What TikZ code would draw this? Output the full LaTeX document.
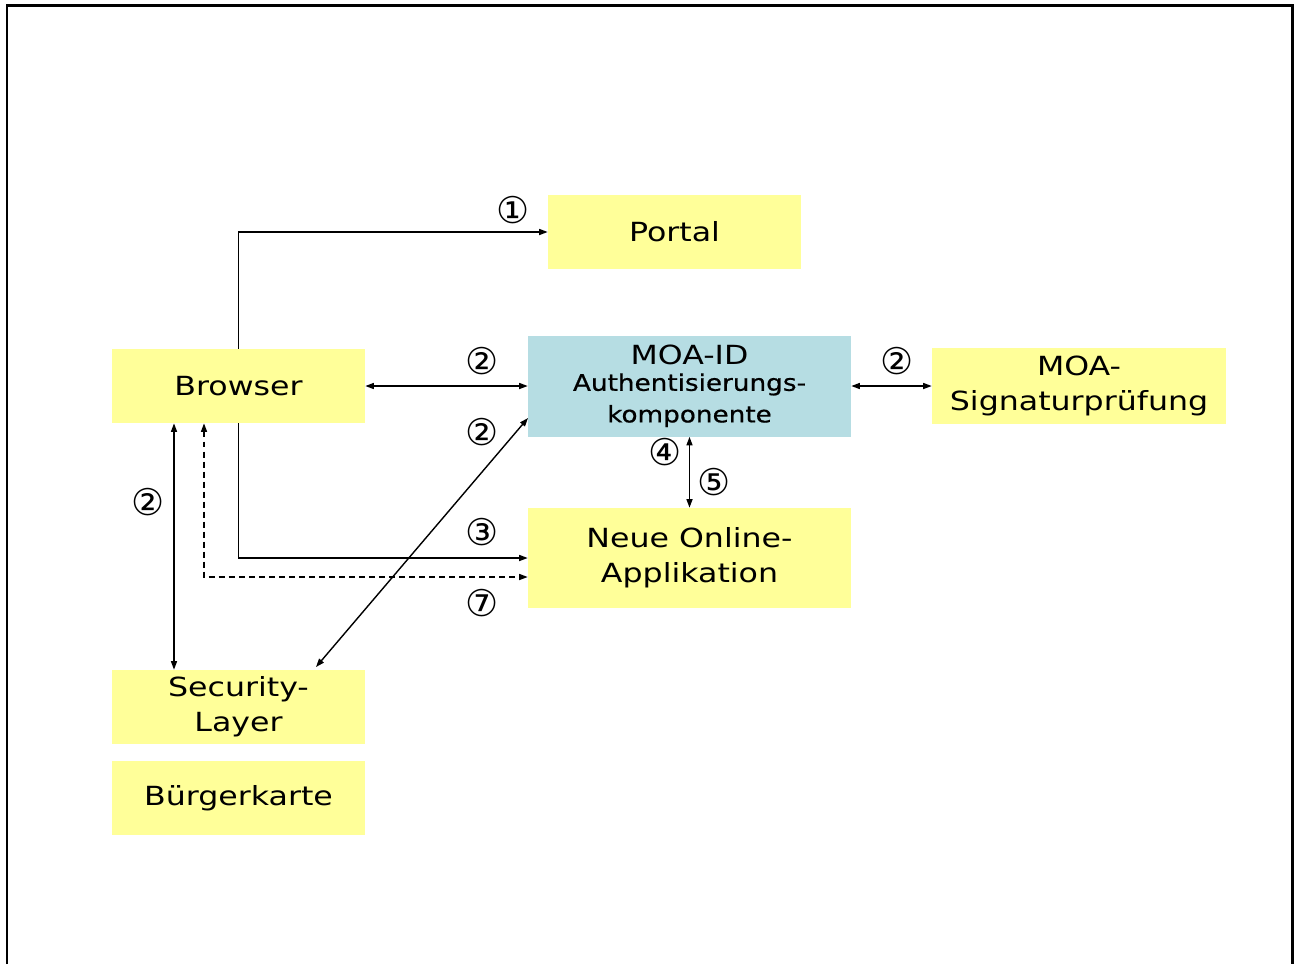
\documentclass[tikz,border=0pt]{standalone}
\usepackage{fontspec}
\usetikzlibrary{arrows.meta}
\setmainfont{DejaVu Sans}
\newfontfamily\boxfont[FakeStretch=1.2]{DejaVu Sans}
\newfontfamily\smallboxfont[FakeStretch=1.15, FakeBold=0.6]{DejaVu Sans}
\definecolor{boxyellow}{RGB}{255,255,153}
\definecolor{boxblue}{RGB}{182,221,227}

\begin{document}
\begin{tikzpicture}[x=0.02cm, y=-0.02cm, >={Triangle[length=0.17cm,width=0.12cm]},
    comp/.style={fill=boxyellow, inner sep=0pt, align=center,
                 font=\boxfont\fontsize{15}{20}\selectfont},
    step label/.style={font=\fontsize{21}{21}\selectfont, inner sep=0pt},
    link/.style={line width=0.8pt},
    back link/.style={link, dash pattern=on 3.4pt off 2.3pt}]

  \useasboundingbox (0,0) rectangle (1294,964);
  \draw[line width=0.06cm] (7,964) -- (7,5) -- (1292,5) -- (1292,964);

  % components
  \node[comp, minimum width=5.06cm, minimum height=1.48cm] (portal) at (674.5,232) {Portal};
  \node[comp, minimum width=5.06cm, minimum height=1.48cm] (browser) at (238.5,386) {Browser};
  \node[comp, fill=boxblue, minimum width=6.46cm, minimum height=2.02cm] (moa) at (689.5,386)
    {MOA-ID\\[-5pt]{\smallboxfont\fontsize{13}{17}\selectfont Authentisierungs-}\\[-2pt]{\smallboxfont\fontsize{13}{17}\selectfont komponente}};
  \node[comp, minimum width=5.88cm, minimum height=1.52cm] (sig) at (1079,386) {MOA-\\Signaturprüfung};
  \node[comp, minimum width=6.46cm, minimum height=2.0cm] (neue) at (689.5,558) {Neue Online-\\Applikation};
  \node[comp, minimum width=5.06cm, minimum height=1.48cm] (security) at (238.5,707) {Security-\\Layer};
  \node[comp, minimum width=5.06cm, minimum height=1.48cm] (karte) at (238.5,798) {Bürgerkarte};

  % helper points
  \coordinate (c2) at (174,0);
  \coordinate (d7) at (204,577);
  \coordinate (diagtop) at (528,418);
  \coordinate (diagbot) at (316,667);

  % connectors
  \draw[link, ->] (browser.north) |- (portal.west);
  \draw[link, <->] (browser.east) -- (moa.west);
  \draw[link, <->] (moa.east) -- (sig.west);
  \draw[link, <->] (moa.south) -- (neue.north);
  \draw[link, ->] (browser.south) |- (neue.west);
  \draw[back link, <->] (browser.south -| d7) -- (d7) -- (neue.west |- d7);
  \draw[link, <->] (browser.south -| c2) -- (security.north -| c2);
  \draw[link, <->] (diagbot) -- (diagtop);

  % step numbers
  \node[step label] (s1) at (513,210) {①};
  \node[step label] (s2a) at (482,361) {②};
  \node[step label] (s2b) at (482,432) {②};
  \node[step label] (s2c) at (897,361) {②};
  \node[step label] (s2d) at (148,502) {②};
  \node[step label] (s3) at (482,532) {③};
  \node[step label] (s4) at (665,452) {④};
  \node[step label] (s5) at (714,482) {⑤};
  \node[step label] (s7) at (482,603) {⑦};

\end{tikzpicture}
\end{document}
